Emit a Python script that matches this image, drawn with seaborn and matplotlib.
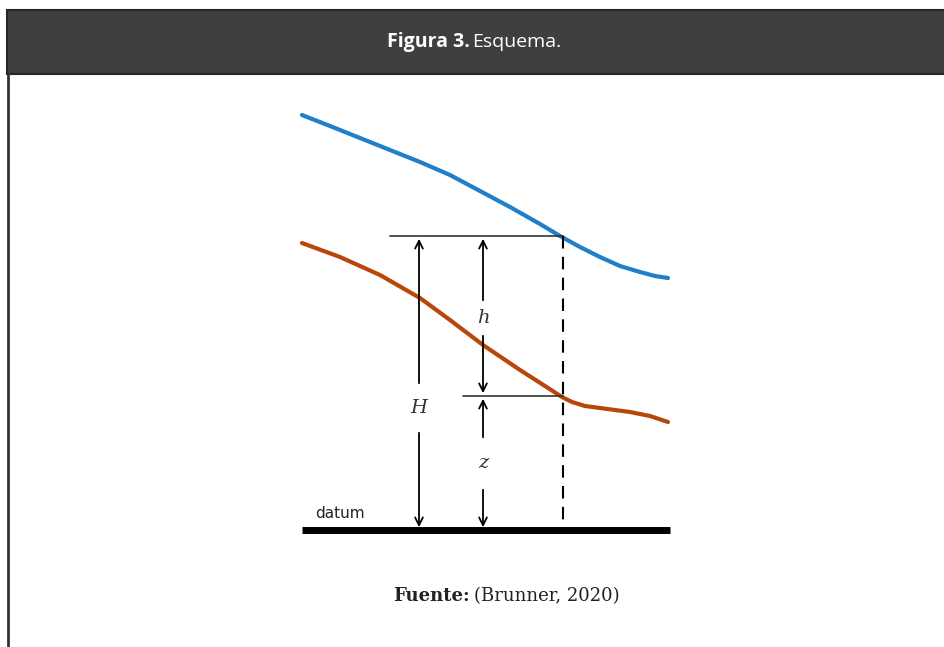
"""
plot.py redraws the 'Figura 3. Esquema.' diagram (Brunner, 2020)
Coordinates are in pixels of the 945x647 picture, y grows downward.
"""
import matplotlib.pyplot as plt
import matplotlib.patches as patches
import seaborn as sns
import pandas as pd

# Curves of the scheme (pixel coordinates)
BLUE_X = [302, 330, 360, 390, 420, 450, 480, 510, 540, 560, 580, 600, 620, 640, 655, 668]
BLUE_Y = [115, 126, 138, 150, 162, 175, 191, 207, 224, 236, 247, 257, 266, 272, 276, 278]
ORANGE_X = [302, 340, 380, 420, 450, 483, 520, 545, 562, 572, 585, 600, 615, 630, 650, 668]
ORANGE_Y = [243, 257, 275, 298, 320, 345, 370, 386, 397, 402, 406, 408, 410, 412, 416, 422]

# Reference levels
TOP_LEVEL = 236
MID_LEVEL = 396
DATUM_LEVEL = 530
H_X = 419
HZ_X = 483
DASH_X = 563

BLUE = "#1f7fc8"
ORANGE = "#b8480a"
HEADER = "#3f3f3f"

sns.set_theme(style='white')

fig = plt.figure(figsize=(9.45, 6.47), dpi=100)
ax = fig.add_axes([0, 0, 1, 1])
ax.set_xlim(0, 945)
ax.set_ylim(647, 0)
ax.axis('off')

# Header box and left frame line
ax.add_patch(patches.Rectangle((7, 10), 945, 64, facecolor=HEADER, edgecolor='#262626', linewidth=1.5))
ax.plot([8, 8], [74, 647], color='#333333', linewidth=2)
ax.text(470, 42, 'Figura 3.', ha='right', va='center', color='white', fontsize=14,
        fontweight='bold', family='Open Sans')
ax.text(472, 42, 'Esquema.', ha='left', va='center', color='white', fontsize=14, family='Open Sans')

# Water surface and energy line
curves = pd.concat([
    pd.DataFrame({'x': BLUE_X, 'y': BLUE_Y, 'line': 'energy'}),
    pd.DataFrame({'x': ORANGE_X, 'y': ORANGE_Y, 'line': 'water'}),
])
sns.lineplot(data=curves, x='x', y='y', hue='line', palette={'energy': BLUE, 'water': ORANGE},
             sort=False, linewidth=3, legend=False, ax=ax,
             solid_joinstyle='round', solid_capstyle='round')
ax.set_xlabel('')
ax.set_ylabel('')

# Levels
ax.plot([390, DASH_X], [TOP_LEVEL, TOP_LEVEL], color='#333333', linewidth=1.2)
ax.plot([463, DASH_X], [MID_LEVEL, MID_LEVEL], color='#333333', linewidth=1.2)
ax.plot([DASH_X, DASH_X], [TOP_LEVEL, DATUM_LEVEL], color='black', linewidth=1.5, linestyle=(0, (6, 4)))
ax.plot([302, 670], [DATUM_LEVEL, DATUM_LEVEL], color='black', linewidth=5, solid_capstyle='butt')
ax.text(315, 514, 'datum', ha='left', va='center', fontsize=11, color='#222222')


def dim_arrow(x, y0, y1, gap0, gap1, label):
    # double arrow with a gap for the label
    style = dict(arrowstyle='->', color='black', linewidth=1.3, mutation_scale=14)
    ax.annotate('', xy=(x, y0), xytext=(x, gap0), arrowprops=style)
    ax.annotate('', xy=(x, y1), xytext=(x, gap1), arrowprops=style)
    ax.text(x, (gap0 + gap1) / 2, label, ha='center', va='center', fontsize=14,
            family='DejaVu Serif', style='italic', color='#333333')


dim_arrow(H_X, TOP_LEVEL, DATUM_LEVEL, 386, 430, 'H')
dim_arrow(HZ_X, TOP_LEVEL, MID_LEVEL, 303, 333, 'h')
dim_arrow(HZ_X, MID_LEVEL, DATUM_LEVEL, 440, 487, 'z')

# Source line
ax.text(470, 596, 'Fuente:', ha='right', va='center', fontsize=13, fontweight='bold',
        family='DejaVu Serif', color='#222222')
ax.text(474, 596, '(Brunner, 2020)', ha='left', va='center', fontsize=13,
        family='DejaVu Serif', color='#222222')

fig.savefig('out.png', dpi=100)
plt.close(fig)
